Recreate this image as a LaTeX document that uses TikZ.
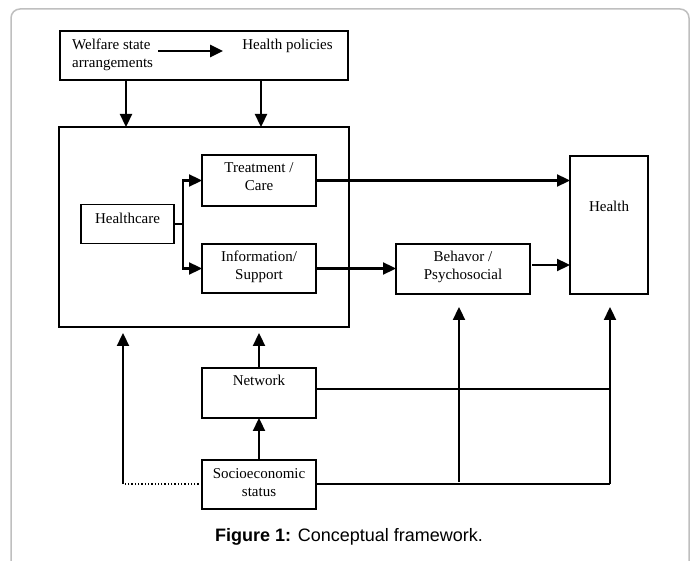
\documentclass[tikz,border=0pt]{standalone}
\usepackage{fontspec}
\setmainfont{Liberation Serif}
\newfontfamily\capfont{Liberation Sans}
\usetikzlibrary{arrows.meta,calc}
\tikzset{
  boxnode/.style={draw, line width=1.3pt, rectangle, inner sep=0pt, outer sep=0pt},
  txt/.style={font=\fontsize{15}{18}\selectfont, align=center, inner sep=0pt},
  arr/.style={line width=2.3pt, -{Triangle[length=13pt,width=12pt]}},
  plain/.style={line width=1.8pt},
}
\begin{document}
\begin{tikzpicture}[x=1pt,y=-1pt]
\useasboundingbox (0,0) rectangle (694,561);
\draw[black!25, line width=1.5pt, rounded corners=9pt] (11,561) -- (11,9) -- (689,9) -- (689,561);

% boxes
\node[boxnode, minimum width=288pt, minimum height=49pt] (top) at (204,55.5) {};
\node[boxnode, minimum width=290pt, minimum height=200pt] (big) at (204,227) {};
\node[boxnode, minimum width=93pt, minimum height=39pt] (hc) at (127.5,224) {};
\node[boxnode, minimum width=114pt, minimum height=51pt] (tc) at (259,180.5) {};
\node[boxnode, minimum width=114pt, minimum height=49pt] (ip) at (259,268.5) {};
\node[boxnode, minimum width=134pt, minimum height=50pt] (bp) at (463,269) {};
\node[boxnode, minimum width=78pt, minimum height=138pt] (hl) at (609,225) {};
\node[boxnode, minimum width=114pt, minimum height=50pt] (nw) at (259,393) {};
\node[boxnode, minimum width=114pt, minimum height=49pt] (ses) at (259,484.5) {};

% texts
\node[txt, align=left, anchor=west] (wsa) at (72,54.5) {Welfare state\\arrangements};
\node[txt] (hp) at (287.5,46) {Health policies};
\node[txt] (thc) at (127.5,218) {Healthcare};
\node[txt] (ttc) at (259,177) {Treatment /\\Care};
\node[txt] (tip) at (259,266.5) {Information/\\Support};
\node[txt] (tbp) at (463,266.5) {Behavor /\\Psychosocial};
\node[txt] (thl) at (609,206) {Health};
\node[txt] (tnw) at (259,380) {Network};
\node[txt] (tses) at (259,483) {Socioeconomic\\status};
\node[font=\capfont\fontsize{18}{20}\selectfont, inner sep=0pt] (cap) at (349,537) {\textbf{Figure 1:} Conceptual framework.};

% top arrows
\coordinate (a1) at (158,51);
\coordinate (a2) at (223,51);
\draw[line width=2.8pt, -{Triangle[length=13pt,width=12pt]}] (a1) -- (a2);
\draw[arr] ([xshift=-78pt]top.south) -- ([xshift=-78pt]big.north);
\draw[arr] ([xshift=57pt]top.south) -- ([xshift=57pt]big.north);

% healthcare branch
\coordinate (br) at ([xshift=9pt]hc.east);
\draw[plain] (hc.east) -- (br);
\draw[arr] (br) |- (tc.west);
\draw[arr] (br) |- (ip.west);

% to health
\draw[arr] (tc.east) -- (tc.east -| hl.west);
\draw[arr] (ip.east) -- (ip.east -| bp.west);
\draw[arr] ([shift={(2pt,4pt)}]bp.east) -- ([yshift=4pt]bp.east -| hl.west);

% bottom
\coordinate (bb) at ([yshift=-6pt]big.south);
\coordinate (lft) at ([shift={(-79pt,0.5pt)}]ses.west);
\coordinate (sl) at ([yshift=0.5pt]ses.east);
\draw[arr] (ses.north) -- (nw.south);
\draw[arr] (nw.north) -- (nw.north |- bb);
\draw[line width=1.3pt, dotted] (ses.west |- lft) -- (lft);
\draw[arr] (lft) -- (lft |- bb);

\coordinate (hb) at ([shift={(1pt,-13pt)}]hl.south);
\coordinate (bq) at ([shift={(-4pt,-13pt)}]bp.south);
\coordinate (nl) at ([yshift=4pt]nw.east);
\draw[plain] (sl) -- (sl -| hb);
\draw[plain] (nl) -- (nl -| hb);
\draw[arr] ([yshift=2pt]sl -| bq) -- (bq);
\draw[arr] (sl -| hb) -- (hb);
\end{tikzpicture}
\end{document}
